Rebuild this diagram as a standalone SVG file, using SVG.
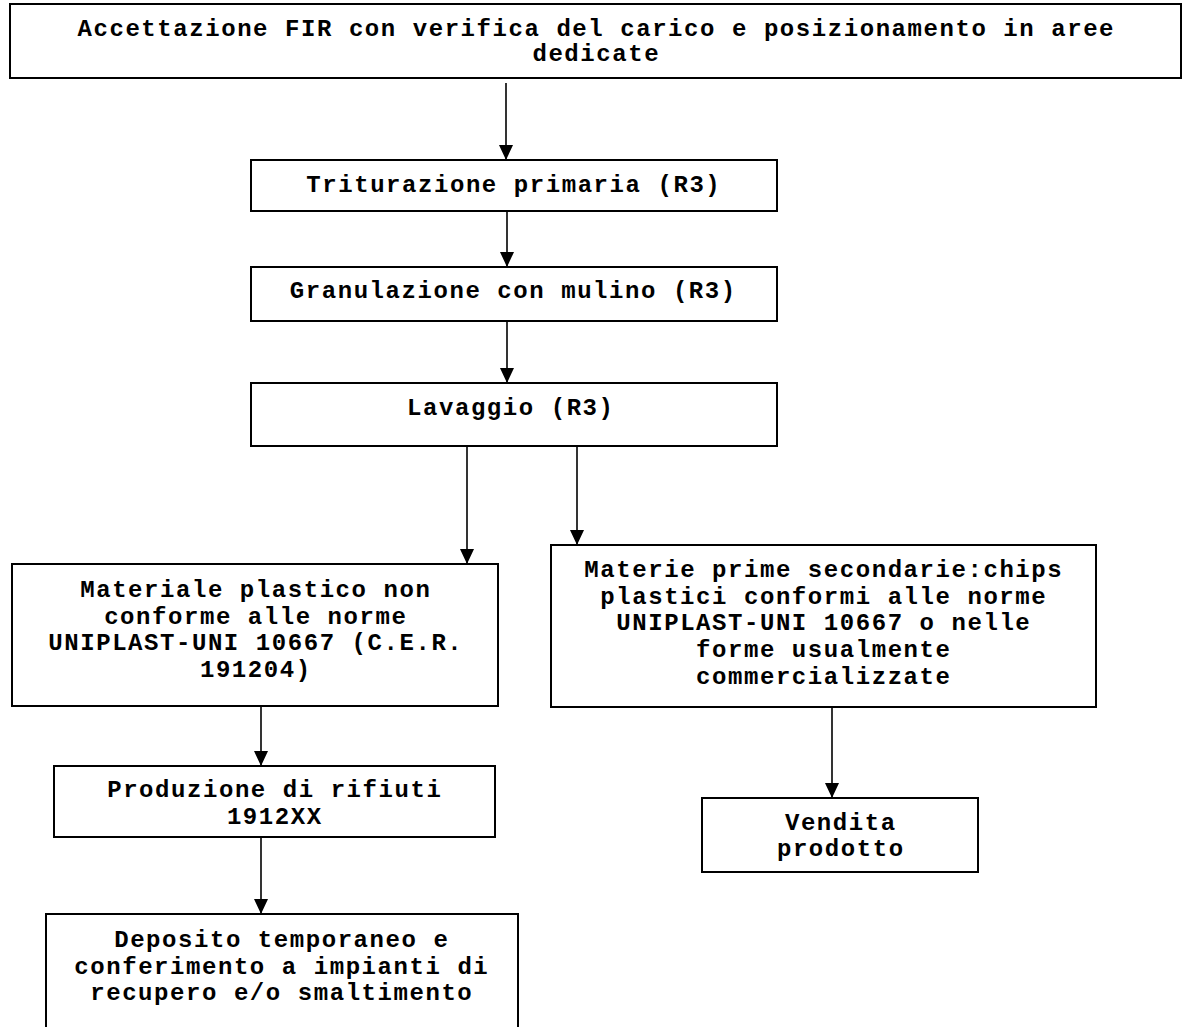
<svg xmlns="http://www.w3.org/2000/svg" width="1183" height="1027" viewBox="0 0 1183 1027">
  <style>
    .box { fill: #ffffff; stroke: #000000; stroke-width: 2; }
    .t { font-family: "Liberation Mono", "Courier New", monospace; font-weight: bold; font-size: 24px; letter-spacing: 1.56px; fill: #000000; text-anchor: middle; }
    .conn { stroke: #000000; stroke-width: 1.6; fill: none; marker-end: url(#arrow); }
  </style>
  <defs>
    <marker id="arrow" markerUnits="userSpaceOnUse" markerWidth="15" markerHeight="14" refX="15" refY="7" orient="auto">
      <path d="M0,0 L15,7 L0,14 z" fill="#000000"/>
    </marker>
  </defs>
  <rect width="1183" height="1027" fill="#ffffff"/>

  <g id="n-accettazione">
    <rect class="box" x="10" y="4" width="1171" height="74"/>
    <text class="t" x="596.3" y="36">Accettazione FIR con verifica del carico e posizionamento in aree</text>
    <text class="t" x="596.3" y="61">dedicate</text>
  </g>

  <g id="n-triturazione">
    <rect class="box" x="251" y="160" width="526" height="51"/>
    <text class="t" x="513.8" y="192">Triturazione primaria (R3)</text>
  </g>

  <g id="n-granulazione">
    <rect class="box" x="251" y="267" width="526" height="54"/>
    <text class="t" x="513.3" y="298">Granulazione con mulino (R3)</text>
  </g>

  <g id="n-lavaggio">
    <rect class="box" x="251" y="383" width="526" height="63"/>
    <text class="t" x="510.8" y="415">Lavaggio (R3)</text>
  </g>

  <g id="n-materiale-non-conforme">
    <rect class="box" x="12" y="564" width="486" height="142"/>
    <text class="t" x="255.8" y="597">Materiale plastico non</text>
    <text class="t" x="255.8" y="623.7">conforme alle norme</text>
    <text class="t" x="255.8" y="650.4">UNIPLAST-UNI 10667 (C.E.R.</text>
    <text class="t" x="255.8" y="677.1">191204)</text>
  </g>

  <g id="n-materie-prime">
    <rect class="box" x="551" y="545" width="545" height="162"/>
    <text class="t" x="823.8" y="577">Materie prime secondarie:chips</text>
    <text class="t" x="823.8" y="603.7">plastici conformi alle norme</text>
    <text class="t" x="823.8" y="630.4">UNIPLAST-UNI 10667 o nelle</text>
    <text class="t" x="823.8" y="657.1">forme usualmente</text>
    <text class="t" x="823.8" y="683.8">commercializzate</text>
  </g>

  <g id="n-produzione">
    <rect class="box" x="54" y="766" width="441" height="71"/>
    <text class="t" x="274.8" y="797">Produzione di rifiuti</text>
    <text class="t" x="274.8" y="824">1912XX</text>
  </g>

  <g id="n-vendita">
    <rect class="box" x="702" y="798" width="276" height="74"/>
    <text class="t" x="840.8" y="830">Vendita</text>
    <text class="t" x="840.8" y="856">prodotto</text>
  </g>

  <g id="n-deposito">
    <rect class="box" x="46" y="914" width="472" height="140"/>
    <text class="t" x="281.8" y="947">Deposito temporaneo e</text>
    <text class="t" x="281.8" y="973.5">conferimento a impianti di</text>
    <text class="t" x="281.8" y="1000">recupero e/o smaltimento</text>
  </g>

  <g id="connectors">
    <line class="conn" x1="506" y1="83" x2="506" y2="160"/>
    <line class="conn" x1="507" y1="211" x2="507" y2="267"/>
    <line class="conn" x1="507" y1="321" x2="507" y2="383"/>
    <line class="conn" x1="467" y1="446" x2="467" y2="564"/>
    <line class="conn" x1="577" y1="446" x2="577" y2="545"/>
    <line class="conn" x1="261" y1="706" x2="261" y2="766"/>
    <line class="conn" x1="261" y1="837" x2="261" y2="914"/>
    <line class="conn" x1="832" y1="707" x2="832" y2="798"/>
  </g>
</svg>
